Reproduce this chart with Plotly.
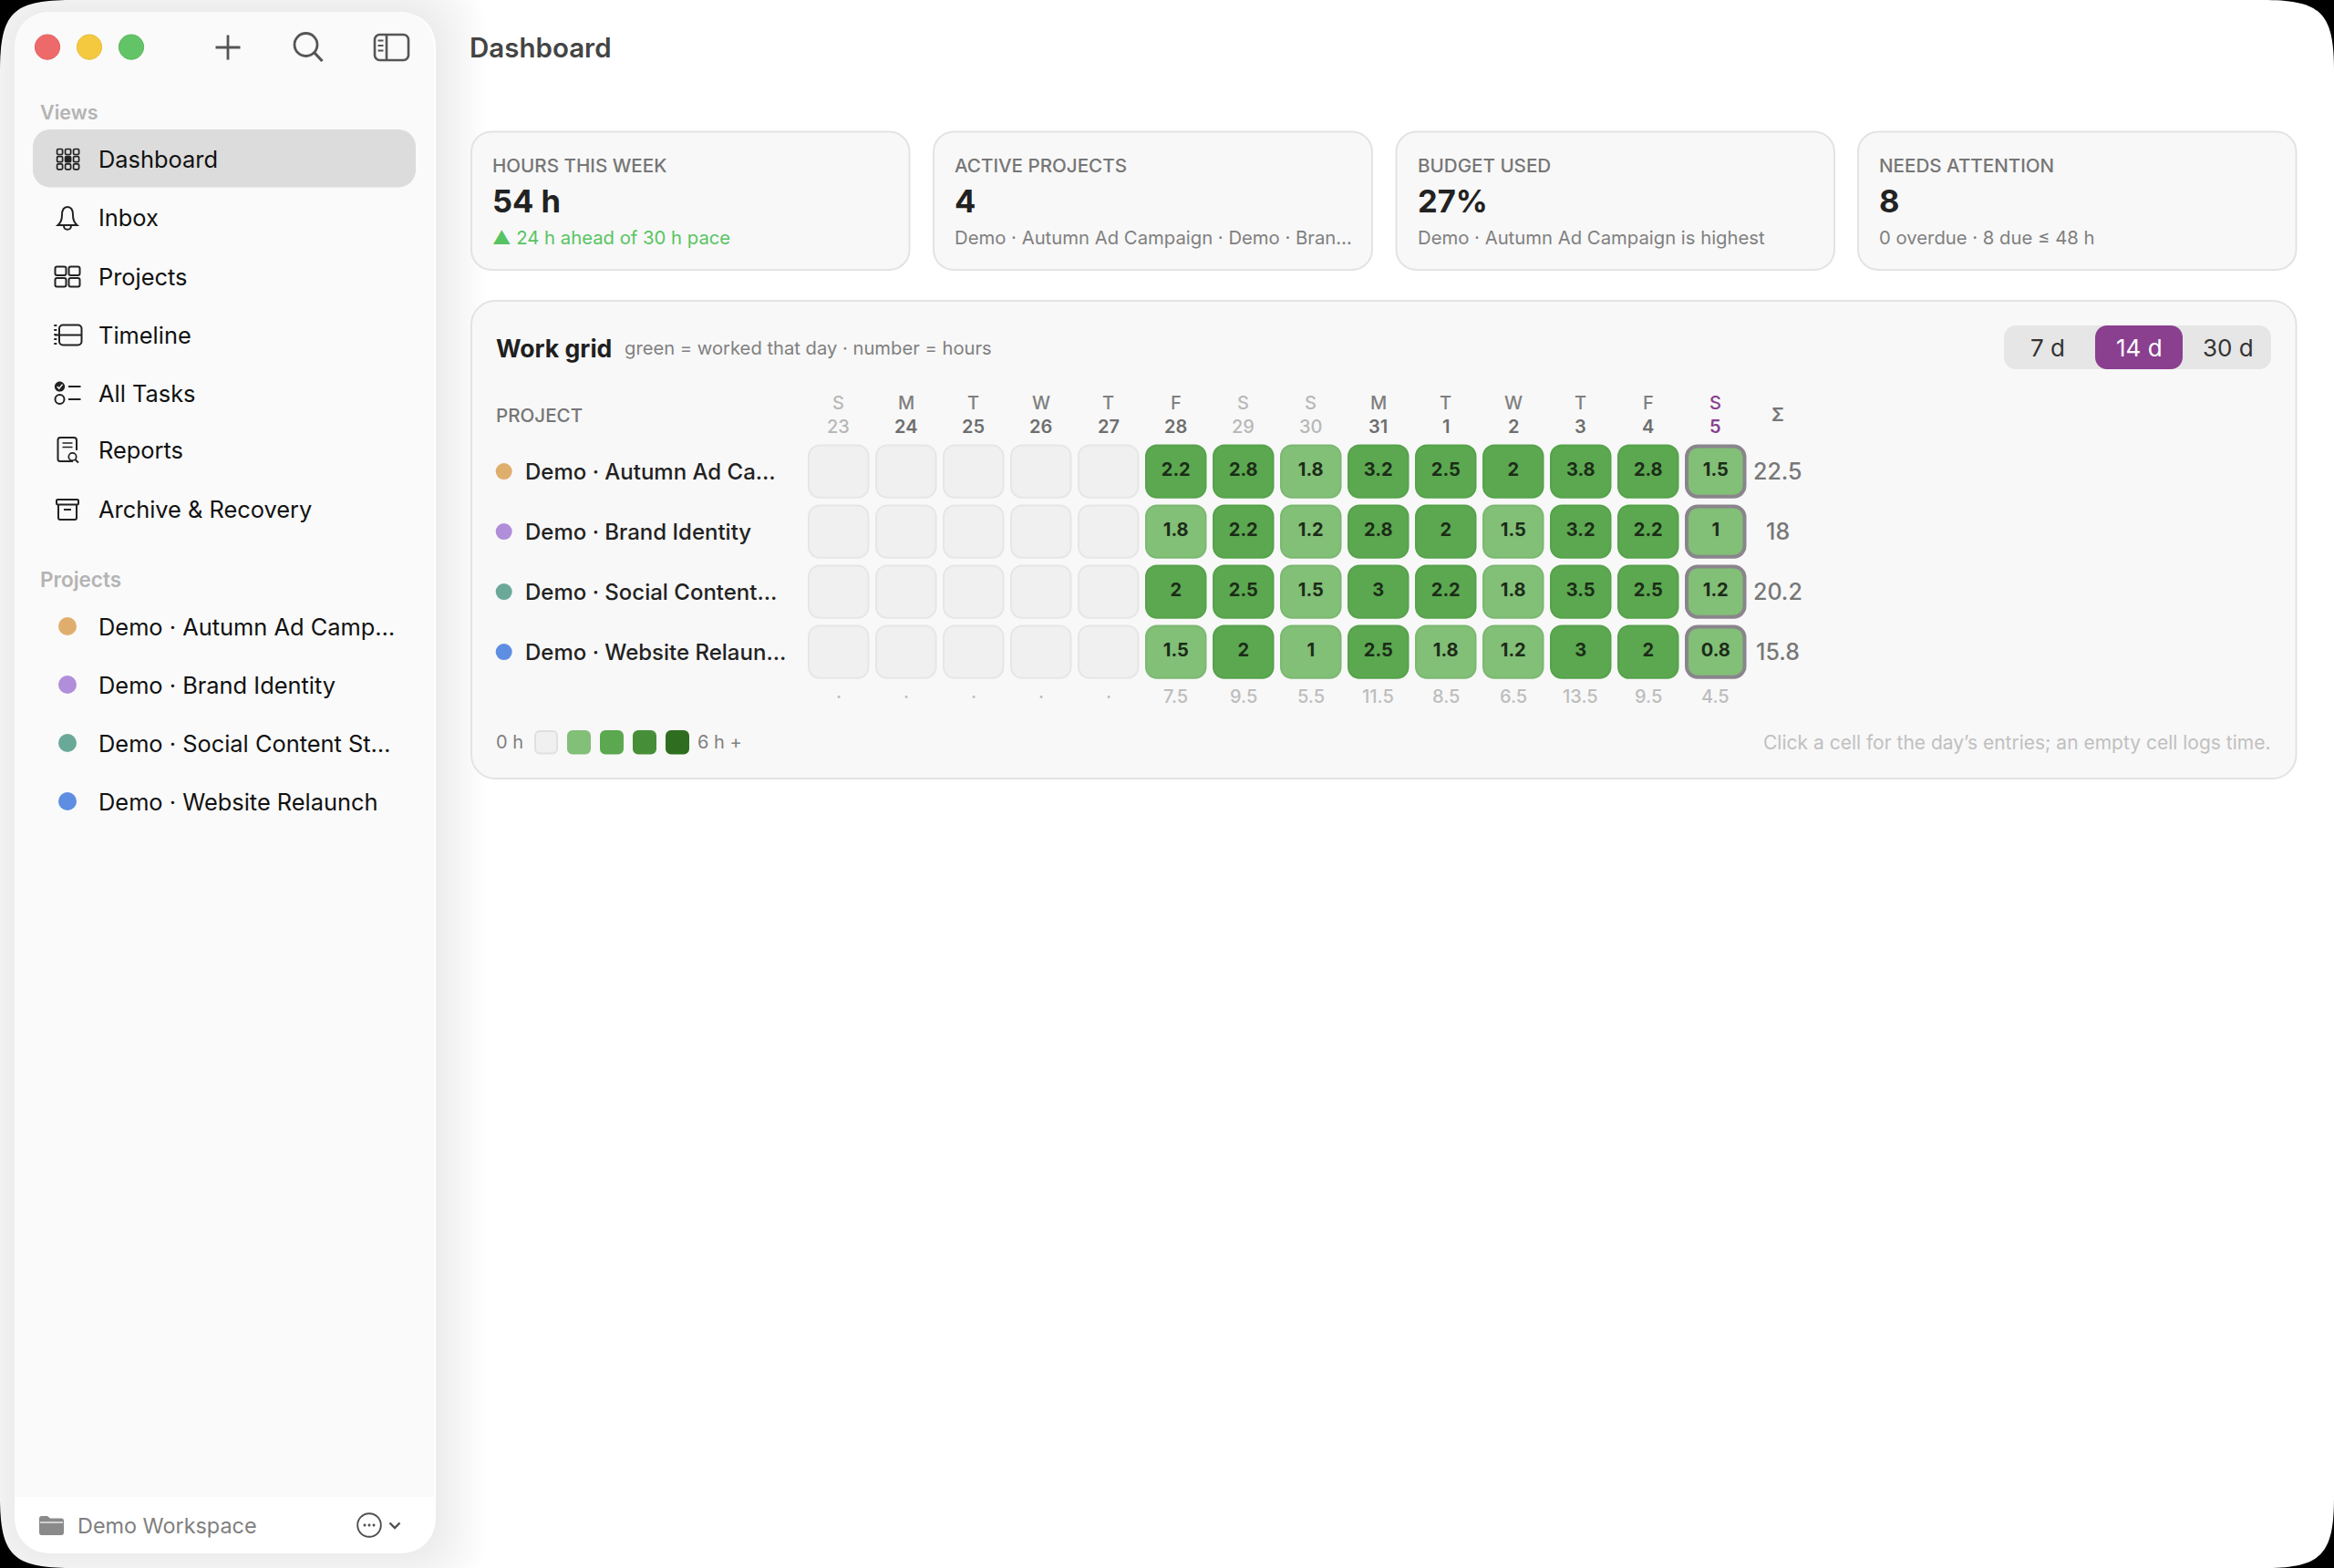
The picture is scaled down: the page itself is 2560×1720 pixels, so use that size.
import plotly.graph_objects as go

# ---------- data ----------
day_letters = ["S", "M", "T", "W", "T", "F", "S", "S", "M", "T", "W", "T", "F", "S"]
day_numbers = [23, 24, 25, 26, 27, 28, 29, 30, 31, 1, 2, 3, 4, 5]
weekend_days = [0, 6, 7]
today_index = 13
grid_projects = ["Demo · Autumn Ad Ca…", "Demo · Brand Identity", "Demo · Social Content…", "Demo · Website Relaun…"]
sidebar_projects = ["Demo · Autumn Ad Camp…", "Demo · Brand Identity", "Demo · Social Content St…", "Demo · Website Relaunch"]
project_colors = ["#e0ae6c", "#b08ed9", "#6aa998", "#5e8ee2"]
hours_autumn = [0, 0, 0, 0, 0, 2.2, 2.8, 1.8, 3.2, 2.5, 2, 3.8, 2.8, 1.5]
hours_brand = [0, 0, 0, 0, 0, 1.8, 2.2, 1.2, 2.8, 2, 1.5, 3.2, 2.2, 1]
hours_social = [0, 0, 0, 0, 0, 2, 2.5, 1.5, 3, 2.2, 1.8, 3.5, 2.5, 1.2]
hours_website = [0, 0, 0, 0, 0, 1.5, 2, 1, 2.5, 1.8, 1.2, 3, 2, 0.8]
project_totals = ["22.5", "18", "20.2", "15.8"]
day_totals = ["·", "·", "·", "·", "·", "7.5", "9.5", "5.5", "11.5", "8.5", "6.5", "13.5", "9.5", "4.5"]
nav_items = ["Dashboard", "Inbox", "Projects", "Timeline", "All Tasks", "Reports", "Archive & Recovery"]
card_labels = ["HOURS THIS WEEK", "ACTIVE PROJECTS", "BUDGET USED", "NEEDS ATTENTION"]
card_values = ["54 h", "4", "27%", "8"]
card_notes = ["▲ 24 h ahead of 30 h pace", "Demo · Autumn Ad Campaign · Demo · Bran…",
              "Demo · Autumn Ad Campaign is highest", "0 overdue · 8 due ≤ 48 h"]
range_options = ["7 d", "14 d", "30 d"]
scale_colors = ["#f0f0f0", "#82bf77", "#5ba850", "#468f38", "#2f6e20"]
hours_rows = [hours_autumn, hours_brand, hours_social, hours_website]

# ---------- layout constants ----------
W, H = 2560, 1720
FONT = "Inter, 'Noto Sans', sans-serif"
CELL_L, CELL_PITCH_X, CELL_W = 886.0, 74.0, 67.5
CELL_T, CELL_PITCH_Y, CELL_H = 487.4, 66.0, 59.4
CARD_X = [(517, 997.5), (1024, 1505), (1531.5, 2012), (2038, 2518.5)]
PURPLE = "#8a3f8f"


def rr(x0, y0, x1, y1, r, c=0.45):
    k = r * c
    return (f"M{x0+r},{y0} L{x1-r},{y0} C{x1-k},{y0} {x1},{y0+k} {x1},{y0+r} "
            f"L{x1},{y1-r} C{x1},{y1-k} {x1-k},{y1} {x1-r},{y1} "
            f"L{x0+r},{y1} C{x0+k},{y1} {x0},{y1-k} {x0},{y1-r} "
            f"L{x0},{y0+r} C{x0},{y0+k} {x0+k},{y0} {x0+r},{y0} Z")


def circ(cx, cy, r):
    k = r * 0.5523
    return (f"M{cx-r},{cy} C{cx-r},{cy-k} {cx-k},{cy-r} {cx},{cy-r} C{cx+k},{cy-r} {cx+r},{cy-k} {cx+r},{cy} "
            f"C{cx+r},{cy+k} {cx+k},{cy+r} {cx},{cy+r} C{cx-k},{cy+r} {cx-r},{cy+k} {cx-r},{cy} Z")


shapes = []
def S(path, fill=None, line=None, lw=0, op=1.0):
    d = dict(type="path", xref="x", yref="y", path=path, layer="below", opacity=op)
    d["fillcolor"] = fill if fill else "rgba(0,0,0,0)"
    d["line"] = dict(color=line, width=lw) if line else dict(width=0)
    shapes.append(d)


annots = []
def T(text, x, y, size, color, weight=400, anchor="left", xref="x", fam=FONT):
    if anchor == "left":
        x = x - 2
    annots.append(dict(text=text, x=x, y=y, xref=xref, yref="y", showarrow=False, xanchor=anchor, yanchor="middle",
                       align=anchor, borderpad=0,
                       font=dict(family=fam, size=size, color=color, weight=weight)))


# ---------- window & sidebar ----------
S(rr(0, 0, W, H, 78, 0.18), fill="#ffffff")
for i in range(18):
    e = 54 - i * 3
    S(rr(16 - e, 13 - e, 478 + e, 1704 + e, 40 + e * 0.5), fill="#000000", op=0.0036)
S(rr(16, 13, 478, 1704, 40, 0.4), fill="#ffffff")
S("M16,1642 L16,53 C16,29 32,13 56,13 L436,13 C460,13 476,29 476,53 L476,1642 Z", fill="#fafafa")

for cx, col, edge in zip([52, 98, 144], ["#ee6a6a", "#f4c93f", "#62c466"], ["#e25c5c", "#e8bd38", "#58b65c"]):
    S(circ(cx, 51.6, 13.6), fill=col, line=edge, lw=1)

ICON = "#555555"
S("M250,38.5 L250,65.5 M236.5,52 L263.5,52", line=ICON, lw=2.8)
S(circ(335.5, 49, 12.5), line=ICON, lw=2.8)
S("M345,58 L353.5,67", line=ICON, lw=3.2)
S(rr(411, 38, 448, 66, 5.5), line=ICON, lw=2.6)
S("M424,38 L424,66", line=ICON, lw=2.6)
S("M414.5,44.5 L420.5,44.5 M414.5,50 L420.5,50 M414.5,55.5 L420.5,55.5", line=ICON, lw=1.8)

T("Views", 45, 123, 21.5, "#b4b4b4", 600)
S(rr(36, 142, 456, 205.5, 19), fill="#dcdcdc")
nav_y = [174.5, 238.8, 303, 367, 431, 493, 558.7]
for name, y in zip(nav_items, nav_y):
    T(name, 109, y, 25.4, "#111111", 400)

D = "#222222"
for r in range(3):
    for c in range(3):
        px, py = 62.6 + c * 9.0, 163.5 + r * 8.2
        fill = D if (r == 1 and c == 1) else None
        S(rr(px, py, px + 6, py + 6, 1.3), fill=fill, line=D, lw=1.7)
S("M63.5,247 C67.5,243.5 68,240 68,236 C68,230 70.5,227 74,227 C77.5,227 80,230 80,236 C80,240 80.5,243.5 84.5,247 Z", line=D, lw=2)
S("M70,248 C70.5,253 77.5,253 78,248", line=D, lw=2)
for px, py in [(60.5, 292.5), (75.5, 292.5), (60.5, 305), (75.5, 305)]:
    S(rr(px, py, px + 12, py + 9.5, 2), line=D, lw=2)
S(rr(65, 356.5, 89.5, 378.5, 4), line=D, lw=2)
S("M60,367.5 L90,367.5", line=D, lw=2)
S("M60.8,356 L60.8,378", line=D, lw=3)
shapes[-1]["line"]["dash"] = "2px,3px"
S(circ(65.5, 424, 5.6), fill=D)
S("M62.8,424 L64.8,426.2 L68.5,421.6", line="#ffffff", lw=1.5)
S(circ(65.5, 438, 5), line=D, lw=2)
S("M75,424 L88.5,424 M75,438 L88.5,438", line=D, lw=2)
S("M80,506 L66,506 C64,506 63.5,505 63.5,503.5 L63.5,483 C63.5,481 64.5,480 66,480 L81,480 C83,480 84,481 84,483 L84,494", line=D, lw=2)
S("M68.5,486 L79.5,486 M68.5,490.5 L79.5,490.5", line=D, lw=1.6)
S(circ(79.5, 501, 4.2), line=D, lw=1.7)
S("M82.6,504.2 L86,507.5", line=D, lw=1.9)
S(rr(62, 548, 86, 553.5, 1.2), line=D, lw=2)
S("M64,553.5 L64,568 C64,569 65,570 66,570 L82,570 C83,570 84,569 84,568 L84,553.5", line=D, lw=2)
S("M70,559 L78,559", line=D, lw=2)

T("Projects", 45, 635, 22.5, "#b4b4b4", 600)
side_y = [687, 751, 815, 879]
for name, y in zip(sidebar_projects, side_y):
    T(name, 109, y, 25.4, "#111111", 400)

S("M43,1666 C43,1664 44,1663 45.5,1663 L52,1663 L55,1665.5 L67.5,1665.5 C69,1665.5 70,1666.5 70,1668 L70,1681 C70,1683 69,1684 67.5,1684 L45.5,1684 C44,1684 43,1683 43,1681 Z", fill="#8a8a8a")
S("M44,1670 L69,1670", line="#ffffff", lw=1.2)
T("Demo Workspace", 85.5, 1673, 23.4, "#7f7f7f", 400)
S(circ(405, 1673, 12.8), line="#4f4f4f", lw=1.9)
for dx in (-5, 0, 5):
    S(circ(405 + dx, 1673, 1.5), fill="#4f4f4f")
S("M427.5,1670.5 L433,1676 L438.5,1670.5", line="#4f4f4f", lw=2.4)

# ---------- page header & cards ----------
T("Dashboard", 516, 52, 29.5, "#444444", 600)
NOTE_COL = ["#57c463", "#808080", "#808080", "#808080"]
for (x0, x1), lab, val, note, ncol in zip(CARD_X, card_labels, card_values, card_notes, NOTE_COL):
    S(rr(x0, 144.5, x1, 296, 22), fill="#f8f8f8", line="#e3e3e3", lw=2)
    T(lab, x0 + 24, 181, 20.6, "#767676", 500)
    T(val, x0 + 24, 220, 34.5, "#222222", 700)
    T(note, x0 + 24, 260, 20.3, ncol, 400)

S(rr(517, 330, 2518.5, 854, 26), fill="#f8f8f8", line="#e3e3e3", lw=2)
T("Work grid", 545, 381.5, 26.6, "#1f1f1f", 700)
T("green = worked that day · number = hours", 686, 381.5, 20.2, "#808080", 400)

S(rr(2198, 357, 2491, 405, 13), fill="#e6e6e6")
S(rr(2298, 357, 2394, 405, 13), fill=PURPLE)
for lab, x, col in zip(range_options, [2246, 2346, 2444], ["#333333", "#ffffff", "#333333"]):
    T(lab, x, 381.5, 26, col, 400, "center")

# ---------- grid axes ----------
x2_lo = CELL_L + CELL_W / 2 - CELL_PITCH_X / 2
x2_hi = x2_lo + 14 * CELL_PITCH_X
y2_lo = CELL_T + CELL_H / 2 - CELL_PITCH_Y / 2
y2_hi = y2_lo + 4 * CELL_PITCH_Y

T("PROJECT", 545, 455, 20.6, "#767676", 500)
T("Σ", 1949.5, 455, 20, "#767676", 600, "center")
for i, (let, num) in enumerate(zip(day_letters, day_numbers)):
    if i == today_index:
        c1, c2 = PURPLE, PURPLE
    elif i in weekend_days:
        c1, c2 = "#b8b8b8", "#b8b8b8"
    else:
        c1, c2 = "#808080", "#6e6e6e"
    T(let, i, 442, 20, c1, 500, "center", "x2")
    T(str(num), i, 468, 20, c2, 600 if c2 != "#b8b8b8" else 500, "center", "x2")
    T(day_totals[i], i, 764, 20, "#bdbdbd", 500, "center", "x2")

row_y = [CELL_T + CELL_H / 2 + r * CELL_PITCH_Y for r in range(4)]
for name, total, y in zip(grid_projects, project_totals, row_y):
    T(name, 577, y, 24, "#222222", 500)
    T(total, 1949.5, y, 25, "#777777", 500, "center")

# legend
T("0 h", 545, 814, 20, "#808080", 400)
for i, col in enumerate(scale_colors):
    px = 586 + i * 36
    S(rr(px + 1, 802, px + 25, 826.5, 5), fill=col, line="#e0e0e0" if i == 0 else col, lw=2)
T("6 h +", 766, 814, 20, "#808080", 400)
T("Click a cell for the day’s entries; an empty cell logs time.", 2491, 814, 21, "#c0c0c0", 400, "right")

# ---------- traces ----------
fig = go.Figure()

dot_x = [552.7] * 4 + [74] * 4
dot_y = row_y + side_y
dot_size = [18] * 4 + [20] * 4
fig.add_trace(go.Scatter(x=dot_x, y=dot_y, mode="markers", xaxis="x", yaxis="y", hoverinfo="skip",
                         marker=dict(size=dot_size, color=project_colors * 2, opacity=1, line=dict(width=0)),
                         showlegend=False))


def cell_fill(v):
    if v <= 0:
        return scale_colors[0]
    if v < 2:
        return scale_colors[1]
    return scale_colors[2]


def cell_edge(v):
    if v <= 0:
        return "#e6e6e6"
    if v < 2:
        return "#7cb872"
    return "#57a24c"


for r, row in enumerate(hours_rows):
    xs = list(range(len(row)))
    lw = [4 if i == today_index else 2 for i in xs]
    wid = [(CELL_W - w) / CELL_PITCH_X for w in lw]
    hei = [(CELL_H - w) / CELL_PITCH_Y for w in lw]
    fig.add_trace(go.Bar(
        x=xs, y=hei, base=[r - h / 2 for h in hei], width=wid, xaxis="x2", yaxis="y2",
        marker=dict(color=[cell_fill(v) for v in row], cornerradius=12,
                    line=dict(color=["#8a858c" if i == today_index else cell_edge(v) for i, v in enumerate(row)], width=lw)),
        name=grid_projects[r], showlegend=False,
        hovertemplate="%{x}<extra></extra>"))
    vis = [i for i, v in enumerate(row) if v > 0]
    fig.add_trace(go.Scatter(
        x=vis, y=[r] * len(vis), text=[f"{row[i]:g}" for i in vis], mode="text", xaxis="x2", yaxis="y2",
        textposition="middle center", hoverinfo="skip", showlegend=False,
        textfont=dict(family=FONT, size=20, color="#1c2c18", weight=700)))

fig.update_layout(
    width=W, height=H, margin=dict(l=0, r=0, t=0, b=0), autosize=False,
    paper_bgcolor="#000000", plot_bgcolor="rgba(0,0,0,0)", barmode="overlay", showlegend=False,
    xaxis=dict(range=[0, W], domain=[0, 1], visible=False, fixedrange=True),
    yaxis=dict(range=[H, 0], domain=[0, 1], visible=False, fixedrange=True),
    xaxis2=dict(range=[-0.5, 13.5], domain=[x2_lo / W, x2_hi / W], visible=False, fixedrange=True, anchor="y2"),
    yaxis2=dict(range=[3.5, -0.5], domain=[1 - y2_hi / H, 1 - y2_lo / H], visible=False, fixedrange=True, anchor="x2"),
    shapes=shapes, annotations=annots,
)

fig.write_html("out.html", config={"displayModeBar": False},
               post_script="document.body.style.margin='0';document.body.style.overflow='hidden';document.body.style.background='#000';")
